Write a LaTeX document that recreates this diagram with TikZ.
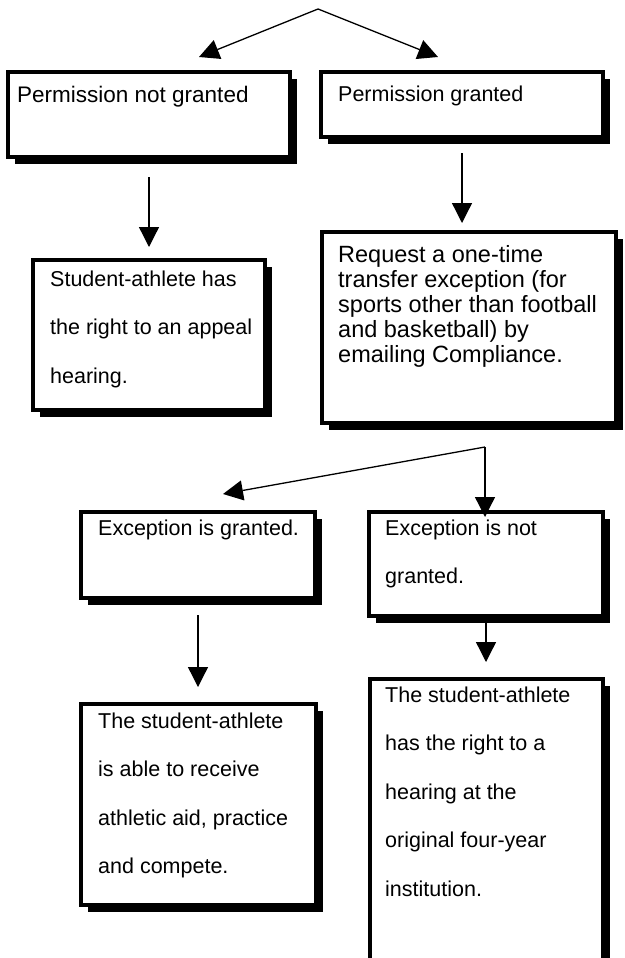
\documentclass[tikz,border=0pt]{standalone}
\usepackage{fontspec}
\setmainfont{Liberation Sans}
\usetikzlibrary{arrows.meta,shadows}
\newcommand{\textlines}[1]{\vtop{#1}}
\begin{document}
\begin{tikzpicture}[x=1pt,y=-1pt,
  boxnode/.style={rectangle, draw=black, line width=4.2pt, fill=white, inner sep=0pt, outer sep=0pt,
     drop shadow={fill=black, opacity=1, shadow xshift=7pt, shadow yshift=-7pt}},
  txt/.style={anchor=base west, inner sep=0pt, font=\fontsize{21.5}{25}\selectfont},
  txtdbl/.style={anchor=base west, inner sep=0pt, font=\fontsize{21.5}{48.5}\selectfont},
  arr/.style={line width=1.3pt, -{Triangle[length=20pt,width=20pt]}}
]
\clip (0,0) rectangle (624,958);

% boxes
\node[boxnode, minimum width=281.8pt, minimum height=84.8pt]  (A) at (149,114.5) {};
\node[boxnode, minimum width=281.8pt, minimum height=64.8pt]  (B) at (462,104.5) {};
\node[boxnode, minimum width=231.8pt, minimum height=149.8pt] (C) at (149,335) {};
\node[boxnode, minimum width=293.8pt, minimum height=190.8pt] (D) at (469,327.5) {};
\node[boxnode, minimum width=233.8pt, minimum height=85.8pt]  (E) at (198,555) {};
\node[boxnode, minimum width=233.8pt, minimum height=103.8pt] (F) at (486,564) {};
\node[boxnode, minimum width=234.8pt, minimum height=200.8pt] (G) at (198.5,804.5) {};
\node[boxnode, minimum width=232.8pt, minimum height=318.8pt] (H) at (486.5,838.5) {};

% texts
\node[txt, font=\fontsize{22.5}{25}\selectfont] (tA) at (17,102) {Permission not granted};
\node[txt] (tB) at (338,101) {Permission granted};
\node[txtdbl] (tC) at (50,286) {\textlines{\hbox{Student-athlete has}\hbox{the right to an appeal}\hbox{hearing.}}};
\node[txt, font=\fontsize{23.5}{25}\selectfont] (tD) at (338,262) {\textlines{\hbox{Request a one-time}\hbox{transfer exception (for}\hbox{sports other than football}\hbox{and basketball) by}\hbox{emailing Compliance.}}};
\node[txt] (tE) at (98,535) {Exception is granted.};
\node[txtdbl] (tF) at (385,535) {\textlines{\hbox{Exception is not}\hbox{granted.}}};
\node[txtdbl] (tG) at (98,728) {\textlines{\hbox{The student-athlete}\hbox{is able to receive}\hbox{athletic aid, practice}\hbox{and compete.}}};
\node[txtdbl] (tH) at (385,702) {\textlines{\hbox{The student-athlete}\hbox{has the right to a}\hbox{hearing at the}\hbox{original four-year}\hbox{institution.}}};

% connector end points
\coordinate (apex) at (318,9);
\coordinate (toA) at (199,57);
\coordinate (toB) at (438,57);
\coordinate (fromA) at (149,177);
\coordinate (toC) at (149,247);
\coordinate (fromB) at (462,153);
\coordinate (toD) at (462,223);
\coordinate (fromD) at (485,447);
\coordinate (toE) at (223,494);
\coordinate (toF) at (485,517);
\coordinate (fromE) at (198,615);
\coordinate (toG) at (198,687);
\coordinate (fromF) at (486,615);
\coordinate (toH) at (486,662);

\draw[arr] (apex) -- (toA);
\draw[arr] (apex) -- (toB);
\draw[arr] (fromA) -- (toC);
\draw[arr] (fromB) -- (toD);
\draw[arr] (fromD) -- (toE);
\draw[arr] (fromD) -- (toF);
\draw[arr] (fromE) -- (toG);
\draw[arr] (fromF) -- (toH);
\end{tikzpicture}
\end{document}
